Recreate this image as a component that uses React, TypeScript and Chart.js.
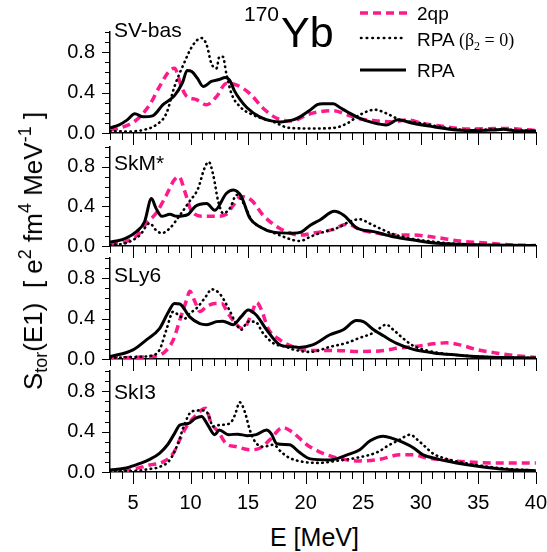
import React, { useEffect, useRef } from "react";
import { Chart, registerables } from "chart.js";

Chart.register(...registerables);

// ---------- data ----------
const E_MIN = 3;
const E_MAX = 40;
const X_TICKS = [5, 10, 15, 20, 25, 30, 35, 40];
const Y_TICKS = [0, 0.4, 0.8];
const Y_MAX = 1.0;
const PANEL_NAMES = ["SV-bas", "SkM*", "SLy6", "SkI3"];
const SERIES_NAMES = ["2qp", "RPA", "RPA"];

// SV-bas
const SVBAS_RPA_E = [3.0, 3.8, 4.5, 5.15, 5.9, 6.7, 7.6, 8.6, 9.3, 9.7, 10.1, 10.6, 11.1, 11.8, 12.5, 13.0, 13.4, 13.8, 14.3, 14.9, 16.0, 17.0, 17.8, 18.9, 19.5, 20.3, 21.0, 21.5, 22.4, 23.0, 23.6, 24.7, 25.9, 27.0, 28.0, 29.3, 31.1, 33.1, 35.1, 36.3, 37.2, 38.0, 40.0];
const SVBAS_RPA_S = [0.05, 0.08, 0.13, 0.19, 0.16, 0.17, 0.28, 0.37, 0.5, 0.62, 0.61, 0.54, 0.46, 0.51, 0.53, 0.55, 0.52, 0.42, 0.33, 0.25, 0.16, 0.12, 0.11, 0.13, 0.16, 0.22, 0.28, 0.29, 0.29, 0.25, 0.21, 0.145, 0.1, 0.08, 0.13, 0.096, 0.062, 0.03, 0.025, 0.03, 0.036, 0.025, 0.02];
const SVBAS_RPA0_E = [3.0, 4.4, 5.9, 7.0, 7.9, 8.6, 9.35, 10.2, 10.95, 11.4, 11.8, 12.25, 12.5, 12.8, 13.1, 13.55, 14.3, 15.4, 17.2, 18.6, 20.6, 22.4, 23.6, 24.7, 26.0, 27.0, 28.2, 29.9, 31.7, 34.0, 36.9, 40.0];
const SVBAS_RPA0_S = [0.02, 0.015, 0.03, 0.08, 0.195, 0.46, 0.67, 0.87, 0.94, 0.87, 0.69, 0.64, 0.755, 0.755, 0.59, 0.39, 0.26, 0.18, 0.11, 0.05, 0.045, 0.05, 0.095, 0.18, 0.23, 0.195, 0.13, 0.1, 0.06, 0.03, 0.035, 0.02];
const SVBAS_QP_E = [3.0, 3.8, 5.3, 6.45, 7.3, 8.2, 8.6, 9.2, 9.6, 10.5, 11.4, 12.25, 13.1, 14.0, 15.15, 16.3, 17.5, 18.9, 20.1, 21.2, 22.4, 23.6, 24.7, 26.2, 27.6, 28.8, 30.2, 31.7, 34.0, 37.2, 40.0];
const SVBAS_QP_S = [0.03, 0.047, 0.13, 0.28, 0.46, 0.62, 0.64, 0.46, 0.37, 0.33, 0.28, 0.36, 0.49, 0.475, 0.39, 0.245, 0.145, 0.12, 0.18, 0.21, 0.22, 0.18, 0.14, 0.12, 0.11, 0.13, 0.095, 0.07, 0.04, 0.045, 0.025];

// SkM*
const SKM_RPA_E = [3.0, 3.55, 4.4, 5.3, 6.0, 6.6, 7.0, 7.5, 8.2, 8.8, 9.8, 10.4, 11.4, 12.1, 13.1, 13.7, 14.4, 15.15, 16.0, 17.2, 18.9, 19.6, 20.4, 21.2, 22.5, 23.3, 24.4, 25.9, 27.6, 29.35, 31.4, 34.0, 40.0];
const SKM_RPA_S = [0.04, 0.05, 0.08, 0.145, 0.245, 0.48, 0.38, 0.3, 0.32, 0.3, 0.32, 0.4, 0.43, 0.36, 0.53, 0.565, 0.5, 0.28, 0.195, 0.14, 0.13, 0.14, 0.21, 0.26, 0.35, 0.31, 0.185, 0.145, 0.094, 0.06, 0.027, 0.015, 0.005];
const SKM_RPA0_E = [3.0, 4.4, 5.6, 6.45, 7.0, 7.5, 8.2, 9.06, 9.9, 10.65, 11.2, 11.58, 11.96, 12.4, 12.83, 13.4, 14.0, 14.7, 15.3, 16.3, 17.5, 18.9, 19.5, 20.4, 21.5, 22.7, 23.9, 24.7, 25.5, 26.4, 27.6, 29.35, 31.4, 34.0, 40.0];
const SKM_RPA0_S = [0.01, 0.03, 0.11, 0.23, 0.16, 0.13, 0.18, 0.31, 0.45, 0.58, 0.785, 0.85, 0.72, 0.45, 0.33, 0.38, 0.515, 0.41, 0.26, 0.18, 0.12, 0.06, 0.05, 0.094, 0.14, 0.18, 0.25, 0.27, 0.23, 0.18, 0.12, 0.07, 0.04, 0.015, 0.005];
const SKM_QP_E = [3.0, 4.4, 5.4, 6.16, 7.0, 7.9, 8.6, 9.0, 9.5, 10.1, 11.1, 12.25, 13.1, 13.7, 14.4, 15.3, 16.3, 17.5, 18.9, 19.6, 20.6, 22.3, 23.56, 24.85, 26.2, 27.6, 29.35, 31.4, 33.4, 35.7, 38.0, 40.0];
const SKM_QP_S = [0.02, 0.045, 0.11, 0.23, 0.33, 0.515, 0.67, 0.7, 0.55, 0.35, 0.3, 0.3, 0.32, 0.41, 0.5, 0.46, 0.31, 0.195, 0.12, 0.11, 0.13, 0.165, 0.22, 0.16, 0.13, 0.11, 0.11, 0.085, 0.05, 0.03, 0.01, 0.005];

// SLy6
const SLY6_RPA_E = [3.0, 5.0, 6.16, 7.3, 8.0, 8.6, 9.06, 9.9, 10.8, 11.4, 12.25, 12.8, 13.7, 14.4, 15.0, 15.7, 16.6, 17.76, 18.9, 19.4, 20.6, 22.1, 23.26, 24.4, 25.0, 25.9, 26.75, 27.9, 29.35, 31.1, 33.1, 35.7, 40.0];
const SLY6_RPA_S = [0.023, 0.09, 0.19, 0.3, 0.45, 0.55, 0.545, 0.42, 0.35, 0.34, 0.37, 0.375, 0.34, 0.42, 0.485, 0.435, 0.29, 0.14, 0.12, 0.115, 0.14, 0.24, 0.29, 0.38, 0.37, 0.29, 0.23, 0.155, 0.095, 0.06, 0.04, 0.02, 0.01];
const SLY6_RPA0_E = [3.0, 5.0, 6.45, 7.3, 7.9, 8.5, 8.9, 9.5, 9.9, 10.5, 11.4, 11.8, 12.5, 13.3, 14.0, 14.4, 15.0, 15.6, 16.3, 17.2, 18.3, 18.9, 20.4, 22.1, 23.56, 24.7, 25.9, 27.0, 27.6, 28.5, 29.35, 31.1, 33.1, 35.7, 40.0];
const SLY6_RPA0_S = [0.01, 0.02, 0.03, 0.09, 0.29, 0.47, 0.44, 0.4, 0.45, 0.5, 0.63, 0.69, 0.65, 0.5, 0.34, 0.29, 0.37, 0.37, 0.255, 0.155, 0.12, 0.095, 0.07, 0.12, 0.16, 0.21, 0.26, 0.34, 0.29, 0.2, 0.13, 0.07, 0.04, 0.02, 0.01];
const SLY6_QP_E = [3.0, 5.9, 7.0, 7.75, 8.5, 9.06, 9.64, 9.93, 10.37, 10.8, 11.4, 12.1, 12.7, 13.26, 14.0, 14.57, 15.3, 15.73, 16.16, 16.74, 17.76, 18.9, 20.4, 22.3, 24.7, 26.4, 28.2, 29.9, 31.1, 32.25, 33.4, 34.8, 36.5, 38.5, 40.0];
const SLY6_QP_S = [0.01, 0.02, 0.03, 0.07, 0.19, 0.385, 0.58, 0.67, 0.57, 0.47, 0.52, 0.55, 0.55, 0.45, 0.34, 0.3, 0.45, 0.56, 0.485, 0.3, 0.19, 0.12, 0.085, 0.085, 0.075, 0.08, 0.11, 0.13, 0.15, 0.16, 0.14, 0.095, 0.06, 0.03, 0.015];

// SkI3
const SKI3_RPA_E = [3.0, 4.4, 5.6, 6.45, 7.3, 8.0, 8.6, 9.06, 9.8, 10.4, 10.95, 11.5, 12.1, 12.5, 13.3, 14.1, 14.9, 15.7, 16.6, 17.0, 17.5, 18.6, 19.4, 20.4, 22.1, 23.6, 24.7, 25.6, 26.75, 27.6, 28.5, 29.35, 30.2, 31.4, 33.1, 35.1, 37.4, 40.0];
const SKI3_RPA_S = [0.02, 0.04, 0.085, 0.125, 0.185, 0.27, 0.38, 0.465, 0.48, 0.53, 0.55, 0.465, 0.37, 0.415, 0.37, 0.375, 0.36, 0.37, 0.415, 0.38, 0.28, 0.27, 0.2, 0.13, 0.12, 0.17, 0.22, 0.31, 0.355, 0.33, 0.29, 0.24, 0.17, 0.13, 0.09, 0.055, 0.026, 0.013];
const SKI3_RPA0_E = [3.0, 5.0, 6.45, 7.3, 8.2, 8.9, 9.5, 10.1, 10.95, 11.5, 11.96, 12.5, 13.4, 13.84, 14.28, 14.7, 15.15, 15.6, 16.3, 17.2, 17.9, 18.6, 19.8, 21.2, 22.7, 24.4, 26.2, 27.3, 28.0, 29.1, 29.6, 30.2, 31.1, 32.25, 34.0, 36.0, 38.0, 40.0];
const SKI3_RPA0_S = [0.01, 0.01, 0.03, 0.05, 0.12, 0.28, 0.48, 0.6, 0.61, 0.58, 0.45, 0.465, 0.48, 0.56, 0.69, 0.6, 0.415, 0.3, 0.25, 0.27, 0.195, 0.14, 0.1, 0.09, 0.11, 0.14, 0.195, 0.27, 0.31, 0.37, 0.33, 0.27, 0.18, 0.13, 0.085, 0.05, 0.027, 0.016];
const SKI3_QP_E = [3.0, 4.7, 6.45, 7.6, 8.5, 9.06, 9.64, 10.2, 10.8, 11.3, 11.8, 12.4, 13.1, 14.0, 15.15, 16.0, 16.9, 18.0, 18.9, 20.1, 21.2, 22.4, 23.56, 24.7, 26.4, 28.2, 29.35, 30.5, 31.95, 34.0, 36.3, 38.0, 40.0];
const SKI3_QP_S = [0.01, 0.02, 0.07, 0.1, 0.185, 0.32, 0.45, 0.53, 0.6, 0.63, 0.48, 0.4, 0.28, 0.25, 0.22, 0.235, 0.32, 0.44, 0.39, 0.27, 0.2, 0.15, 0.12, 0.11, 0.125, 0.17, 0.17, 0.14, 0.12, 0.1, 0.09, 0.09, 0.09];

const PANEL_DATA = [
  { rpa: [SVBAS_RPA_E, SVBAS_RPA_S], rpa0: [SVBAS_RPA0_E, SVBAS_RPA0_S], qp: [SVBAS_QP_E, SVBAS_QP_S] },
  { rpa: [SKM_RPA_E, SKM_RPA_S], rpa0: [SKM_RPA0_E, SKM_RPA0_S], qp: [SKM_QP_E, SKM_QP_S] },
  { rpa: [SLY6_RPA_E, SLY6_RPA_S], rpa0: [SLY6_RPA0_E, SLY6_RPA0_S], qp: [SLY6_QP_E, SLY6_QP_S] },
  { rpa: [SKI3_RPA_E, SKI3_RPA_S], rpa0: [SKI3_RPA0_E, SKI3_RPA0_S], qp: [SKI3_QP_E, SKI3_QP_S] },
];

// ---------- layout / style ----------
const W = 547;
const H = 552;
const PLOT_LEFT = 110;
const PLOT_RIGHT_PAD = 11;
const BOXES = [
  { top: 32, bottom: 133 },
  { top: 147, bottom: 246 },
  { top: 258, bottom: 359 },
  { top: 371, bottom: 472 },
];
const PINK = "#ff1a8c";
const SANS = "'Liberation Sans', Arial, Helvetica, sans-serif";
const SERIF = "'Liberation Serif', 'Times New Roman', serif";

Chart.defaults.font.family = SANS;
Chart.defaults.color = "#000";

function pts(pair: number[][]) {
  const [E, S] = pair;
  return E.map((e, i) => ({ x: e, y: S[i] }));
}

const tickMarks = {
  id: "tickMarks",
  afterDraw(chart: any) {
    const { ctx, chartArea: a, scales } = chart;
    const x = scales.x;
    const y = scales.y;
    ctx.save();
    ctx.strokeStyle = "#000";
    ctx.lineWidth = 1;
    ctx.beginPath();
    for (let v = E_MIN; v <= E_MAX; v += 1) {
      const px = Math.round(x.getPixelForValue(v)) + 0.5;
      const len = v % 5 === 0 ? 12 : 7;
      ctx.moveTo(px, a.bottom);
      ctx.lineTo(px, a.bottom + len);
    }
    for (let k = 0; k <= 10; k++) {
      const py = Math.round(y.getPixelForValue(k / 10)) + 0.5;
      const len = k % 4 === 0 ? 8 : 5;
      ctx.moveTo(a.left - len, py);
      ctx.lineTo(a.left, py);
    }
    ctx.stroke();
    ctx.restore();
  },
};

const legendLines = {
  id: "legendLines",
  afterDraw(chart: any) {
    const ctx = chart.ctx;
    ctx.save();
    ctx.strokeStyle = PINK;
    ctx.lineWidth = 3.5;
    ctx.setLineDash([8, 5]);
    ctx.beginPath();
    ctx.moveTo(360, 13);
    ctx.lineTo(407, 13);
    ctx.stroke();
    ctx.strokeStyle = "#000";
    ctx.lineWidth = 2.6;
    ctx.lineCap = "round";
    ctx.setLineDash([0.5, 5.2]);
    ctx.beginPath();
    ctx.moveTo(361, 38);
    ctx.lineTo(406, 38);
    ctx.stroke();
    ctx.lineCap = "butt";
    ctx.setLineDash([]);
    ctx.lineWidth = 3;
    ctx.beginPath();
    ctx.moveTo(360, 70);
    ctx.lineTo(406, 70);
    ctx.stroke();
    ctx.restore();
  },
};

function Panel({ index }: { index: number }) {
  const ref = useRef<HTMLCanvasElement | null>(null);
  const box = BOXES[index];
  const isLast = index === BOXES.length - 1;
  const canvasTop = index === 0 ? 0 : box.top - 12;
  const xh = isLast ? 44 : 14;
  const ch = box.bottom - canvasTop + xh;

  useEffect(() => {
    if (!ref.current) return;
    const d = PANEL_DATA[index];
    const chart = new Chart(ref.current, {
      type: "line",
      data: {
        datasets: [
          {
            label: SERIES_NAMES[2],
            data: pts(d.rpa),
            borderColor: "#000",
            borderWidth: 3,
            pointRadius: 0,
            cubicInterpolationMode: "monotone",
          },
          {
            label: SERIES_NAMES[1] + " (β2 = 0)",
            data: pts(d.rpa0),
            borderColor: "#000",
            borderWidth: 2.6,
            borderDash: [0.5, 4.6],
            borderCapStyle: "round",
            pointRadius: 0,
            cubicInterpolationMode: "monotone",
          },
          {
            label: SERIES_NAMES[0],
            data: pts(d.qp),
            borderColor: PINK,
            borderWidth: 3.5,
            borderDash: [8, 5],
            pointRadius: 0,
            cubicInterpolationMode: "monotone",
          },
        ],
      },
      options: {
        responsive: false,
        animation: false,
        devicePixelRatio: 1,
        layout: { padding: { top: box.top - canvasTop, left: 0, right: PLOT_RIGHT_PAD, bottom: 0 } },
        plugins: { legend: { display: false }, tooltip: { enabled: false }, title: { display: false } },
        scales: {
          x: {
            type: "linear",
            min: E_MIN,
            max: E_MAX,
            afterBuildTicks: (s: any) => {
              s.ticks = X_TICKS.map((v) => ({ value: v }));
            },
            afterFit: (s: any) => {
              s.height = xh;
            },
            grid: { display: false, drawTicks: true, tickLength: 19 },
            border: { display: true, color: "#000", width: 1.5 },
            ticks: {
              display: isLast,
              padding: 0,
              autoSkip: false,
              maxRotation: 0,
              font: { size: 20, family: SANS },
              color: "#000",
              callback: (v: any) => String(v),
            },
          },
          y: {
            type: "linear",
            min: 0,
            max: Y_MAX,
            afterBuildTicks: (s: any) => {
              s.ticks = Y_TICKS.map((v) => ({ value: v }));
            },
            afterFit: (s: any) => {
              s.width = PLOT_LEFT;
            },
            grid: { display: false, drawTicks: true, tickLength: 15 },
            border: { display: true, color: "#000", width: 1.5 },
            ticks: {
              padding: 0,
              autoSkip: false,
              font: { size: 20, family: SANS },
              color: "#000",
              callback: (v: any) => Number(v).toFixed(1),
            },
          },
        },
      },
      plugins: index === 0 ? [tickMarks, legendLines] : [tickMarks],
    } as any);
    return () => chart.destroy();
  }, [index]);

  return (
    <canvas
      ref={ref}
      width={W}
      height={ch}
      style={{ position: "absolute", left: 0, top: canvasTop, width: W, height: ch }}
    />
  );
}

function Label({ text, left, baseline, size, family = SANS }: { text: React.ReactNode; left: number; baseline: number; size: number; family?: string }) {
  return (
    <div
      style={{
        position: "absolute",
        left,
        top: baseline - 0.8465 * size,
        font: `${size}px ${family}`,
        lineHeight: `${size}px`,
        whiteSpace: "nowrap",
        color: "#000",
      }}
    >
      {text}
    </div>
  );
}

export default function App() {
  const panelBaselines = [36.7, 170, 281.7, 398.3];
  return (
    <div style={{ position: "absolute", left: 0, top: 0, width: W, height: H, background: "#fff", overflow: "hidden" }}>
      {BOXES.map((_, i) => (
        <Panel key={i} index={i} />
      ))}
      {PANEL_NAMES.map((n, i) => (
        <Label key={n} text={n} left={114} baseline={panelBaselines[i]} size={21} />
      ))}
      <Label text="170" left={244} baseline={20.5} size={21} />
      <Label text="Yb" left={281} baseline={47} size={43} />
      <Label text="2qp" left={417} baseline={20} size={19} />
      <Label
        text={
          <>
            RPA{" "}
            <span style={{ fontFamily: SERIF, fontSize: 18, lineHeight: 0 }}>
              (β<span style={{ fontSize: 12, verticalAlign: "-0.35em", lineHeight: 0 }}>2</span> = 0)
            </span>
          </>
        }
        left={417}
        baseline={45.7}
        size={19}
      />
      <Label text="RPA" left={417} baseline={77.3} size={19} />
      <Label text="E [MeV]" left={270} baseline={546} size={25} />
      <div
        style={{
          position: "absolute",
          left: 33,
          top: 251,
          transform: "translate(-50%, -50%) rotate(-90deg)",
          whiteSpace: "nowrap",
          font: `26px ${SANS}`,
          lineHeight: "26px",
          color: "#000",
        }}
      >
        S<span style={{ fontSize: 18, verticalAlign: "-0.3em", lineHeight: 0 }}>tor</span>(E1)&nbsp;&nbsp;[ e
        <span style={{ fontSize: 18, verticalAlign: "0.6em", lineHeight: 0 }}>2</span> fm
        <span style={{ fontSize: 18, verticalAlign: "0.6em", lineHeight: 0 }}>4</span> MeV
        <span style={{ fontSize: 18, verticalAlign: "0.6em", lineHeight: 0 }}>-1</span> ]
      </div>
    </div>
  );
}
